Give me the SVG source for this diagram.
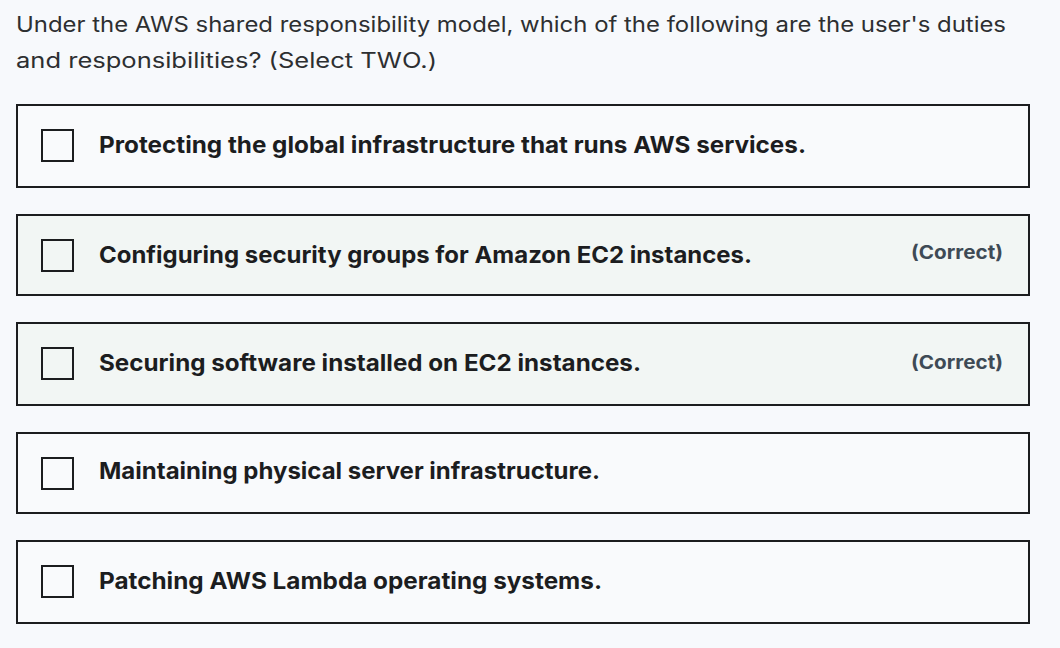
<svg xmlns="http://www.w3.org/2000/svg" width="1060" height="648" viewBox="0 0 1060 648">
<style>
.bg{fill:#f7f9fc}
.box{fill:#f9fafc;stroke:#1c1d1f;stroke-width:2}
.ok{fill:#f2f6f4}
.cb{fill:none;stroke:#1c1d1f;stroke-width:2}
.t{font-family:Inter,"Liberation Sans",sans-serif;font-size:23px;font-weight:700;fill:#1c1d1f}
.c{font-family:Inter,"Liberation Sans",sans-serif;font-size:19px;font-weight:700;fill:#3e4a55}
.q{font-family:Inter,"Liberation Sans",sans-serif;font-size:21px;fill:#2d2f31}
</style>
<rect class="bg" width="1060" height="648"/>
<text class="q" x="16" y="32" textLength="990" lengthAdjust="spacingAndGlyphs">Under the AWS shared responsibility model, which of the following are the user's duties</text>
<text class="q" x="16" y="68" textLength="421" lengthAdjust="spacingAndGlyphs">and responsibilities? (Select TWO.)</text>
<g id="opt1"><rect class="box" x="17" y="105" width="1012" height="82"/><rect class="cb" x="42" y="130" width="31" height="31"/><text class="t" x="99" y="153" textLength="707" lengthAdjust="spacingAndGlyphs">Protecting the global infrastructure that runs AWS services.</text></g>
<g id="opt2"><rect class="box ok" x="17" y="215" width="1012" height="80"/><rect class="cb" x="42" y="240" width="31" height="31"/><text class="t" x="99" y="263" textLength="653" lengthAdjust="spacingAndGlyphs">Configuring security groups for Amazon EC2 instances.</text><text class="c" x="911" y="259" textLength="92" lengthAdjust="spacingAndGlyphs">(Correct)</text></g>
<g id="opt3"><rect class="box ok" x="17" y="323" width="1012" height="82"/><rect class="cb" x="42" y="348" width="31" height="31"/><text class="t" x="99" y="371" textLength="542" lengthAdjust="spacingAndGlyphs">Securing software installed on EC2 instances.</text><text class="c" x="911" y="369" textLength="92" lengthAdjust="spacingAndGlyphs">(Correct)</text></g>
<g id="opt4"><rect class="box" x="17" y="433" width="1012" height="80"/><rect class="cb" x="42" y="458" width="31" height="31"/><text class="t" x="99" y="479" textLength="501" lengthAdjust="spacingAndGlyphs">Maintaining physical server infrastructure.</text></g>
<g id="opt5"><rect class="box" x="17" y="541" width="1012" height="82"/><rect class="cb" x="42" y="566" width="31" height="31"/><text class="t" x="99" y="589" textLength="503" lengthAdjust="spacingAndGlyphs">Patching AWS Lambda operating systems.</text></g>
<g id="connectors"/>
</svg>
